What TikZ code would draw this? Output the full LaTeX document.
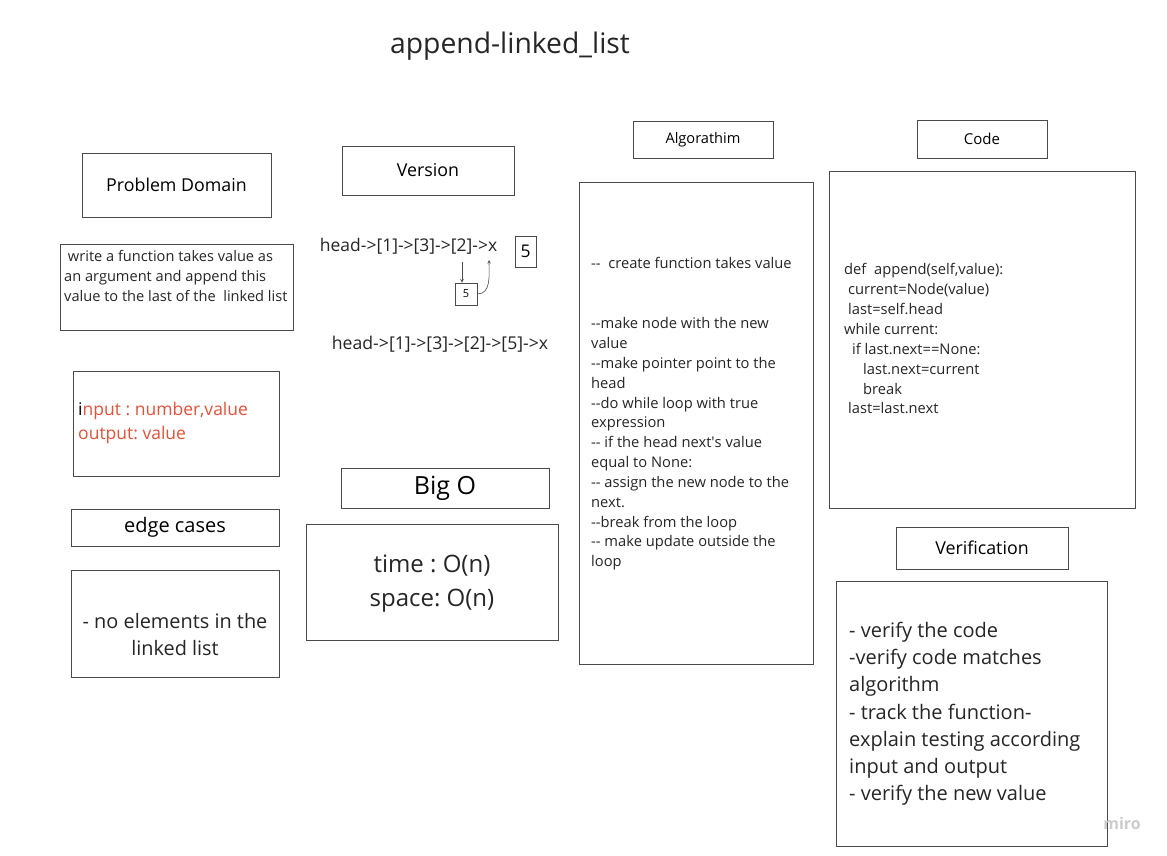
\documentclass[tikz,border=0pt]{standalone}
\usepackage{fontspec}
\setmainfont{Open Sans}
\usetikzlibrary{arrows, positioning}

\definecolor{linegray}{HTML}{4A4A4A}
\definecolor{inkred}{HTML}{E0533A}
\newcommand{\fsz}[2]{\fontsize{#1}{#2}\selectfont}
\newcommand{\dd}{\mbox{-}\mbox{-}}
\frenchspacing

\begin{document}
\begin{tikzpicture}[x=1pt, y=-1pt,
    card/.style={draw=linegray, line width=.9pt, inner sep=0pt},
    txt/.style={inner sep=0pt, text=black!85, align=left},
    >=stealth]
  \fill[white] (0,0) rectangle (1167,856);
  \useasboundingbox (0,0) rectangle (1167,856);

  \node[txt, font=\fsz{28.3}{32}] (title) at (510,46) {append-linked\_list};

  % left column
  \node[card, minimum width=189pt, minimum height=64pt, font=\fsz{17.8}{20}] (domain) at (176.5,185) {Problem Domain};
  \node[card, minimum width=233pt, minimum height=86pt] (problem) at (176.5,287) {};
  \node[txt, anchor=north west, font=\fsz{14.6}{20}] (problemtxt) at (64,250.5) {\ write a function takes value as\\an argument and append this\\value to the last of the\ \ linked list};
  \node[card, minimum width=206pt, minimum height=105pt] (io) at (176,423.5) {};
  \node[txt, anchor=north west, text=inkred, font=\fsz{17.5}{24}] (iotxt) at (78,402) {\textcolor{black}{i}nput : number,value\\output: value};
  \node[card, minimum width=208pt, minimum height=37pt, font=\fsz{20}{22}] (edge) at (175,527.5) {edge cases};
  \node[card, minimum width=208pt, minimum height=107pt] (edgetxt) at (175,623.5) {};
  \node[txt, align=center, font=\fsz{19.9}{27}] (edgeinfo) at (175,634.5) {- no elements in the\\linked list};

  % version column
  \node[card, minimum width=172pt, minimum height=49pt, font=\fsz{17.8}{20}] (version) at (428,170.5) {Version};
  \node[txt, font=\fsz{17.5}{20}] (list1) at (408.5,246) {head->[1]->[3]->[2]->x};
  \node[card, minimum width=21pt, minimum height=31pt, font=\fsz{17.5}{20}] (five) at (525.5,251.5) {5};
  \node[card, minimum width=22pt, minimum height=22pt, font=\fsz{11}{13}] (newnode) at (466,294) {5};
  \coordinate (drop) at (462,262);
  \coordinate (back) at (489,260);
  \draw[->, line width=.6pt, linegray] (drop) -- (drop |- newnode.north);
  \draw[->, line width=.6pt, linegray] (newnode.east) to[out=0, in=-90] (back);
  \node[txt, font=\fsz{17.65}{20}] (list2) at (440,344) {head->[1]->[3]->[2]->[5]->x};
  \node[card, minimum width=208pt, minimum height=40pt, font=\fsz{25}{28}] (bigo) at (445,488) {Big O};
  \node[card, minimum width=252pt, minimum height=116pt] (cost) at (432,582) {};
  \node[txt, align=center, font=\fsz{24}{34}] (costtxt) at (432,584) {time : O(n)\\space: O(n)};

  % algorithm column
  \node[card, minimum width=140pt, minimum height=37pt, font=\fsz{14.6}{17}] (algo) at (703,139.5) {Algorathim};
  \node[card, minimum width=234pt, minimum height=482pt] (steps) at (696,423) {};
  \node[txt, anchor=north west, font=\fsz{14.7}{19.83}] (stepstxt) at (591,257.5) {\dd\ \ create function takes value\\[40pt]
    \dd make node with the new\\value\\\dd make pointer point to the\\head\\\dd do while loop with true\\expression\\
    \dd\ if the head next\textquotesingle s value\\equal to None:\\\dd\ assign the new node to the\\next.\\\dd break from the loop\\
    \dd\ make update outside the\\loop};

  % code column
  \node[card, minimum width=130pt, minimum height=38pt, font=\fsz{15}{18}] (code) at (982,139) {Code};
  \node[card, minimum width=306pt, minimum height=337pt] (codebox) at (982,339.5) {};
  \node[txt, anchor=north west, font=\fsz{14.7}{19.85}] (codetxt) at (844,263.5) {def\ \ append(self,value):\\
    \hspace*{4pt}current=Node(value)\\\hspace*{4pt}last=self.head\\while current:\\
    \hspace*{8pt}if last.next==None:\\\hspace*{19pt}last.next=current\\\hspace*{19pt}break\\
    \hspace*{4pt}last=last.next};
  \node[card, minimum width=172pt, minimum height=42pt, font=\fsz{17.8}{20}] (verif) at (982,548) {Verification};
  \node[card, minimum width=271pt, minimum height=265pt] (checks) at (971.5,713.5) {};
  \node[txt, anchor=north west, font=\fsz{20}{27.33}] (checkstxt) at (849,621.5) {- verify the code\\-verify code matches\\algorithm\\
    - track the function-\\explain testing according\\input and output\\- verify the new value};

  \node[txt, text=black!20, font=\fsz{16}{18}\bfseries] (miro) at (1122,823) {miro};
\end{tikzpicture}
\end{document}
